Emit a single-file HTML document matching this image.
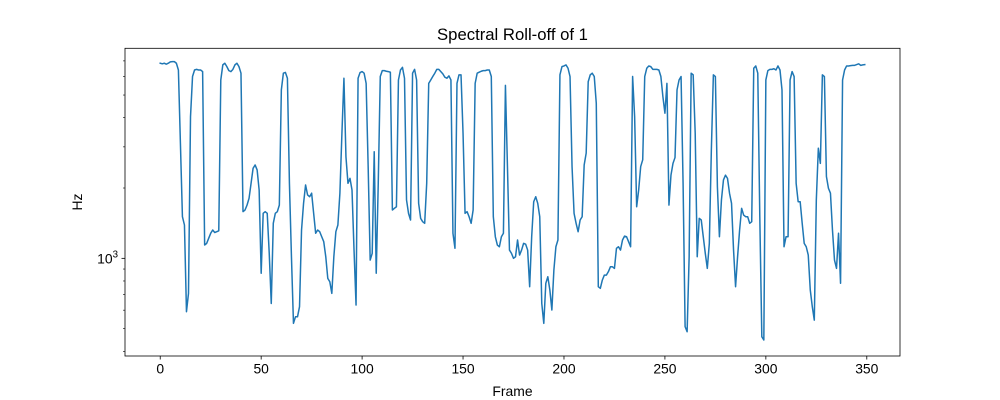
<!DOCTYPE html>
<html><head><meta charset="utf-8"><style>
body{margin:0;background:#fff;}
svg{display:block;font-family:"Liberation Sans","DejaVu Sans",sans-serif;}
</style></head><body>
<svg id="chart" width="1000" height="400" viewBox="0 0 1000 400" xmlns="http://www.w3.org/2000/svg">
<rect x="0" y="0" width="1000" height="400" fill="#fff"/>
<text x="512.5" y="40" font-size="16.7" text-anchor="middle" fill="#000">Spectral Roll-off of 1</text>
<text x="512.5" y="396" font-size="13.9" text-anchor="middle" fill="#000">Frame</text>
<text x="82" y="202" font-size="13.9" text-anchor="middle" fill="#000" transform="rotate(-90 82 202)">Hz</text>
<g id="ticks"></g>
<g id="plot"></g>
<rect x="125" y="48.3" width="775" height="307.7" fill="none" stroke="#000" stroke-width="0.8"/>
</svg>
<script>
const xTicks = [0, 50, 100, 150, 200, 250, 300, 350];
const yMajorTicks = [1000];
const yMinorTicks = [400, 500, 600, 700, 800, 900, 2000, 3000, 4000, 5000, 6000, 7000];
const rolloffHz = [
6840,6800,6840,6780,6840,6930,6950,6950,6840,6400,
3110,1507,1389,591,708,4040,6000,6400,6440,6400,
6400,6300,1140,1159,1218,1280,1322,1290,1300,1312,
5800,6730,6840,6615,6360,6300,6440,6730,6840,6615,
6200,1584,1610,1690,1807,2095,2430,2510,2390,1960,
863,1558,1584,1558,1050,641,1412,1558,1584,1690,
5260,6200,6250,5900,2095,1016,527,562,562,621,
1322,1720,2060,1867,1835,1900,1558,1280,1322,1300,
1237,1178,1016,821,794,708,1016,1300,1389,1900,
3430,5900,2720,2095,2200,1960,1085,631,5900,6240,
6300,6200,5610,2470,983,1050,2860,863,2095,6000,
6360,6360,6320,6300,6260,1610,1637,1663,5800,6400,
6570,5900,1778,1558,1459,6200,6440,5800,1720,1483,
1435,1412,2095,5610,5800,6000,6200,6440,6440,6300,
6160,5960,5900,6040,5800,1280,1104,5610,6100,6100,
3430,1558,1584,1507,1412,1610,5610,6200,6260,6320,
6360,6360,6400,6400,6000,1507,1237,1140,1121,1237,
1280,5500,2470,1085,1050,1000,1016,1198,1033,1085,
1159,1150,1085,756,1237,1747,1835,1720,1507,641,
527,782,834,732,601,891,1121,1198,6100,6615,
6660,6730,6510,6000,2470,1558,1412,1300,1459,1507,
2510,2820,5700,6100,6200,6000,4610,756,744,807,
848,848,877,920,920,906,1104,1121,1085,1198,
1245,1237,1178,1121,6000,4040,1663,1960,2470,2640,
6000,6510,6660,6615,6440,6440,6440,6400,6000,4920,
4180,5610,1690,2270,2550,2700,5260,5800,6000,2095,
510,485,1016,6200,6100,3430,1016,1483,1459,1237,
1050,906,1159,2910,6100,6000,2025,1237,1778,2165,
2270,2200,1900,1720,1085,756,1016,1322,1637,1532,
1507,1507,1412,1435,6510,6660,6200,1507,462,447,
5800,6360,6440,6440,6480,6400,6660,6400,5260,1121,
1237,1237,5800,6300,6000,2095,1747,1747,1412,1159,
1121,1033,732,621,544,1778,2960,2550,6100,6000,
2240,1995,1900,1322,983,906,1280,782,5800,6400,
6660,6660,6680,6700,6700,6750,6800,6700,6730,6750
];
const NS = 'http://www.w3.org/2000/svg';
const L = 125, R = 900, T = 48.3, B = 356;
const n = rolloffHz.length;
const xMin = -0.05 * (n - 1), xMax = (n - 1) * 1.05;
const yLogMin = 2.582, yLogMax = 3.899;
function xs(v){ return L + (v - xMin) / (xMax - xMin) * (R - L); }
function ys(v){ return B - (Math.log10(v) - yLogMin) / (yLogMax - yLogMin) * (B - T); }
const tg = document.getElementById('ticks');
function mk(tag, attrs){ const e = document.createElementNS(NS, tag); for (const k in attrs) e.setAttribute(k, attrs[k]); return e; }
xTicks.forEach(t => {
  const x = xs(t);
  const ln = mk('line', {x1:x, x2:x, y1:B, y2:B+3.5, stroke:'#000', 'stroke-width':0.8});
  
  
  tg.appendChild(ln);
  const tx = mk('text', {x:x, y:B+17.5, 'font-size':13.9, 'text-anchor':'middle', fill:'#000'});
  
  
  tx.textContent = String(t);
  tg.appendChild(tx);
});
yMajorTicks.forEach(t => {
  const y = ys(t);
  const ln = mk('line', {x1:L-3.5, x2:L, y1:y, y2:y, stroke:'#000', 'stroke-width':0.8});
  
  
  tg.appendChild(ln);
  const tx = mk('text', {x:L-7, y:y+5, 'font-size':13.9, 'text-anchor':'end', fill:'#000'});
  
  
  const exp = Math.round(Math.log10(t));
  tx.innerHTML = '10<tspan dy="-6" font-size="9.7">' + exp + '</tspan>';
  tg.appendChild(tx);
});
yMinorTicks.forEach(t => {
  const y = ys(t);
  const ln = mk('line', {x1:L-2, x2:L, y1:y, y2:y, stroke:'#000', 'stroke-width':0.6});
  
  
  tg.appendChild(ln);
});
const pts = rolloffHz.map((v, i) => xs(i).toFixed(2) + ',' + ys(v).toFixed(2)).join(' ');
const line = mk('polyline', {points:pts, fill:'none', stroke:'#1f77b4', 'stroke-width':1.5, 'stroke-linejoin':'round', 'stroke-linecap':'square'});


document.getElementById('plot').appendChild(line);
</script>
</body></html>
